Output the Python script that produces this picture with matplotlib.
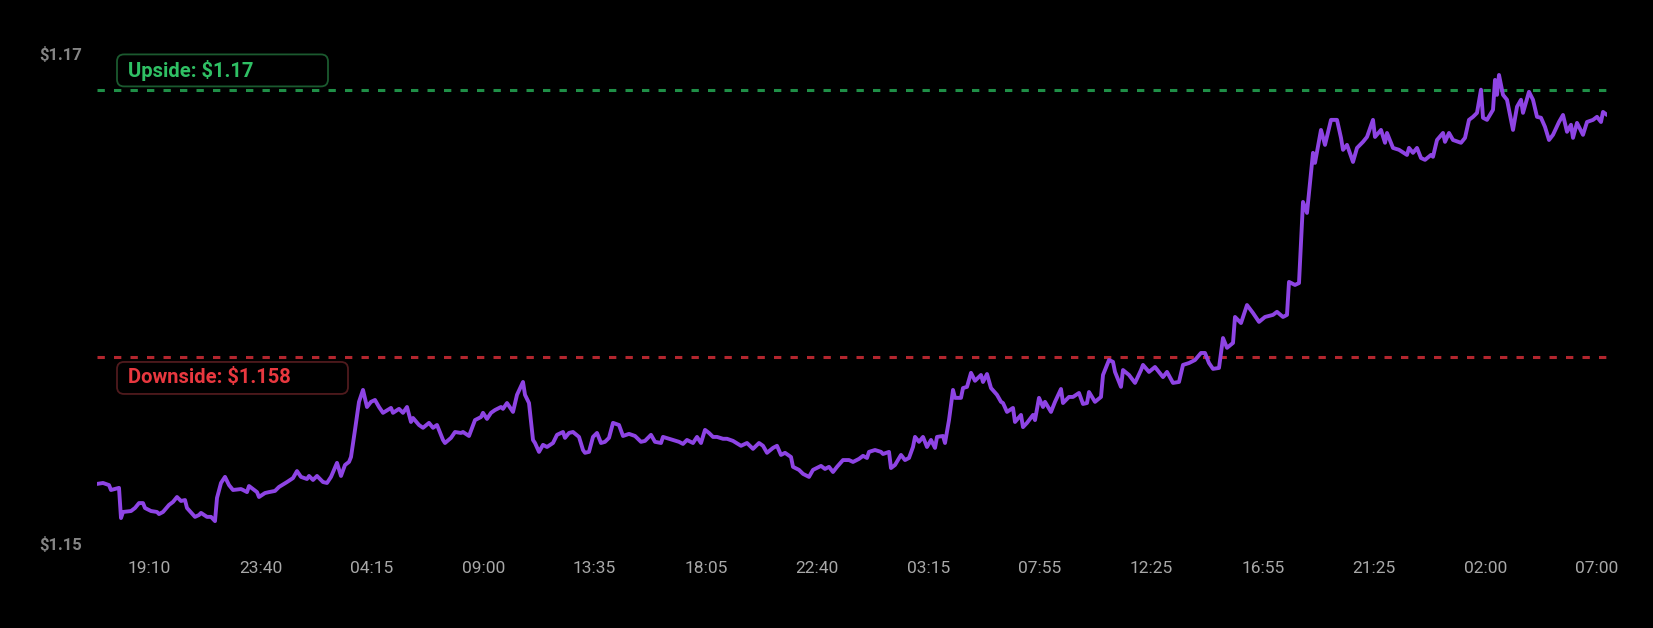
import numpy as np
import matplotlib.pyplot as plt
from matplotlib.patches import FancyBboxPatch
from matplotlib.transforms import IdentityTransform

plt.rcParams['font.family'] = ['Roboto', 'DejaVu Sans']

# bar index (5 minute bars from first bar) and price
bar_idx = [
    0, 3, 6, 7, 11, 12, 13, 17, 19, 21, 23, 24, 27, 30, 31, 33, 36, 38, 40, 42,
    44, 45, 49, 51, 52, 55, 57, 59, 60, 62, 64, 66, 68, 72, 73, 75, 76, 78, 80, 81,
    84, 86, 89, 91, 95, 98, 100, 102, 105, 106, 108, 110, 113, 115, 117, 120, 122, 124, 126, 127,
    129, 131, 133, 135, 137, 139, 141, 143, 147, 148, 151, 153, 155, 157, 158, 161, 163, 166, 168, 170,
    173, 174, 177, 179, 182, 183, 186, 189, 192, 193, 195, 197, 199, 202, 203, 205, 208, 210, 213, 214,
    216, 218, 219, 221, 223, 225, 228, 230, 233, 234, 236, 238, 241, 243, 244, 246, 248, 250, 252, 254,
    256, 258, 261, 263, 266, 269, 272, 274, 277, 279, 282, 283, 286, 288, 291, 293, 295, 298, 300, 302,
    304, 306, 308, 310, 313, 315, 318, 322, 325, 328, 331, 333, 335, 338, 340, 342, 344, 347, 348, 351,
    353, 356, 358, 362, 364, 366, 368, 370, 373, 376, 378, 381, 383, 385, 386, 389, 392, 393, 396, 397,
    399, 402, 404, 406, 408, 409, 411, 413, 415, 417, 419, 420, 423, 424, 426, 428, 429, 432, 433, 435,
    437, 439, 442, 443, 445, 447, 450, 452, 453, 455, 458, 459, 462, 463, 465, 468, 469, 471, 473, 474,
    477, 479, 482, 483, 486, 488, 491, 493, 495, 496, 499, 502, 503, 506, 508, 509, 512, 513, 516, 519,
    522, 523, 526, 529, 533, 535, 538, 541, 543, 546, 549, 552, 554, 556, 558, 561, 563, 565, 568, 569,
    572, 575, 578, 581, 584, 588, 590, 593, 595, 596, 599, 601, 603, 605, 608, 609, 612, 614, 617, 620,
    622, 623, 625, 628, 630, 633, 635, 638, 639, 642, 644, 645, 648, 651, 655, 656, 658, 660, 662, 664,
    667, 668, 670, 673, 674, 676, 678, 682, 684, 686, 688, 690, 692, 693, 695, 698, 699, 700, 701, 703,
    705, 706, 708, 710, 712, 713, 716, 718, 720, 722, 724, 726, 728, 731, 733, 735, 737, 738, 740, 743,
    745, 748, 750, 752, 753, 755,
]
price = [
    1.15257, 1.15261, 1.15252, 1.15231, 1.15240, 1.15111, 1.15137, 1.15141, 1.15154, 1.15175,
    1.15175, 1.15154, 1.15141, 1.15137, 1.15128, 1.15137, 1.15167, 1.15180, 1.15201, 1.15184,
    1.15188, 1.15154, 1.15116, 1.15124, 1.15133, 1.15116, 1.15116, 1.15098, 1.15197, 1.15261,
    1.15287, 1.15252, 1.15231, 1.15235, 1.15231, 1.15222, 1.15248, 1.15235, 1.15222, 1.15201,
    1.15218, 1.15222, 1.15227, 1.15244, 1.15265, 1.15282, 1.15312, 1.15287, 1.15278, 1.15291,
    1.15274, 1.15291, 1.15265, 1.15261, 1.15287, 1.15347, 1.15291, 1.15338, 1.15351, 1.15372,
    1.15488, 1.15608, 1.15659, 1.15586, 1.15608, 1.15616, 1.15586, 1.15561, 1.15582, 1.15561,
    1.15578, 1.15561, 1.15586, 1.15522, 1.15539, 1.15509, 1.15497, 1.15518, 1.15497, 1.15509,
    1.15445, 1.15432, 1.15454, 1.15479, 1.15475, 1.15479, 1.15462, 1.15530, 1.15543, 1.15561,
    1.15535, 1.15561, 1.15573, 1.15586, 1.15578, 1.15603, 1.15565, 1.15638, 1.15693, 1.15638,
    1.15603, 1.15445, 1.15432, 1.15394, 1.15424, 1.15415, 1.15432, 1.15467, 1.15479, 1.15454,
    1.15475, 1.15479, 1.15458, 1.15402, 1.15390, 1.15394, 1.15458, 1.15475, 1.15432, 1.15437,
    1.15454, 1.15518, 1.15509, 1.15462, 1.15471, 1.15462, 1.15437, 1.15441, 1.15467, 1.15437,
    1.15432, 1.15458, 1.15450, 1.15445, 1.15437, 1.15428, 1.15445, 1.15432, 1.15458, 1.15432,
    1.15488, 1.15475, 1.15458, 1.15458, 1.15450, 1.15450, 1.15441, 1.15420, 1.15432, 1.15407,
    1.15432, 1.15420, 1.15390, 1.15411, 1.15420, 1.15381, 1.15390, 1.15372, 1.15330, 1.15317,
    1.15300, 1.15287, 1.15317, 1.15334, 1.15321, 1.15330, 1.15308, 1.15330, 1.15359, 1.15359,
    1.15351, 1.15364, 1.15377, 1.15368, 1.15394, 1.15402, 1.15394, 1.15385, 1.15394, 1.15325,
    1.15338, 1.15381, 1.15359, 1.15368, 1.15415, 1.15458, 1.15437, 1.15458, 1.15415, 1.15445,
    1.15411, 1.15458, 1.15462, 1.15432, 1.15530, 1.15659, 1.15625, 1.15625, 1.15667, 1.15672,
    1.15732, 1.15698, 1.15723, 1.15693, 1.15727, 1.15667, 1.15638, 1.15608, 1.15603, 1.15565,
    1.15582, 1.15522, 1.15552, 1.15500, 1.15518, 1.15552, 1.15530, 1.15625, 1.15586, 1.15608,
    1.15565, 1.15608, 1.15663, 1.15603, 1.15629, 1.15629, 1.15646, 1.15599, 1.15603, 1.15650,
    1.15608, 1.15629, 1.15723, 1.15787, 1.15779, 1.15736, 1.15672, 1.15744, 1.15723, 1.15689,
    1.15744, 1.15766, 1.15736, 1.15757, 1.15714, 1.15736, 1.15689, 1.15693, 1.15766, 1.15774,
    1.15787, 1.15817, 1.15817, 1.15774, 1.15749, 1.15753, 1.15881, 1.15839, 1.15860, 1.15971,
    1.15945, 1.16022, 1.15988, 1.15950, 1.15971, 1.15980, 1.15993, 1.15971, 1.15980, 1.16121,
    1.16108, 1.16116, 1.16463, 1.16416, 1.16673, 1.16630, 1.16771, 1.16707, 1.16814, 1.16814,
    1.16737, 1.16686, 1.16707, 1.16634, 1.16694, 1.16720, 1.16741, 1.16814, 1.16741, 1.16771,
    1.16716, 1.16758, 1.16694, 1.16686, 1.16664, 1.16694, 1.16673, 1.16694, 1.16651, 1.16643,
    1.16664, 1.16656, 1.16728, 1.16758, 1.16720, 1.16758, 1.16728, 1.16716, 1.16737, 1.16814,
    1.16827, 1.16844, 1.16943, 1.16823, 1.16814, 1.16857, 1.16985, 1.16921, 1.17006, 1.16921,
    1.16900, 1.16857, 1.16771, 1.16870, 1.16900, 1.16844, 1.16934, 1.16900, 1.16827, 1.16823,
    1.16784, 1.16728, 1.16750, 1.16805, 1.16835, 1.16763, 1.16793, 1.16737, 1.16801, 1.16750,
    1.16805, 1.16814, 1.16827, 1.16805, 1.16848, 1.16835,
]

tick_labels = ["19:10", "23:40", "04:15", "09:00", "13:35", "18:05", "22:40",
               "03:15", "07:55", "12:25", "16:55", "21:25", "02:00", "07:00"]

upside = 1.1694
downside = 1.158
y_range = (1.15, 1.171)

fig = plt.figure(figsize=(16.53, 6.28), dpi=100, facecolor='black')
ax = fig.add_axes([97 / 1653, 84 / 628, 1510 / 1653, 491 / 628])
ax.set_facecolor('black')

ax.plot(bar_idx, price, color='#8e44e4', lw=2.8,
        solid_joinstyle='round', solid_capstyle='round', zorder=3)
ax.axhline(upside, color='#1f8f47', lw=2.2, dashes=(2.4, 3.0), zorder=2)
ax.axhline(downside, color='#b3262e', lw=2.2, dashes=(2.4, 3.0), zorder=2)

ax.set_xlim(0, 755)
ax.set_ylim(*y_range)

ax.set_xticks(np.linspace(26, 750, len(tick_labels)))
ax.set_xticklabels(tick_labels)
ax.set_yticks(y_range)
ax.set_yticklabels([f"${v:.2f}" for v in y_range])
ax.tick_params(axis='x', length=0, pad=12, labelsize=12.5, labelcolor='#a8a8a8')
ax.tick_params(axis='y', length=0, pad=11, labelsize=12, labelcolor='#858585')
for lab in ax.get_yticklabels():
    lab.set_fontweight('semibold')
for s in ax.spines.values():
    s.set_visible(False)


def level_tag(value, text, txt_color, edge_color, width, above):
    ypx = ax.transData.transform((0, value))[1]
    x0 = ax.transAxes.transform((0, 0))[0] + 20
    h = 32
    y0 = ypx + 4 if above else ypx - 5 - h
    box = FancyBboxPatch((x0, y0), width, h,
                         boxstyle="round,pad=0,rounding_size=7",
                         transform=IdentityTransform(), fc='black',
                         ec=edge_color, lw=1.3, zorder=4)
    fig.add_artist(box)
    fig.text(x0 + 11, y0 + h / 2, text, transform=IdentityTransform(),
             ha='left', va='center', fontsize=14.5, fontweight='semibold',
             color=txt_color, zorder=5)


level_tag(upside, f"Upside: ${upside:.2f}", '#2fc064', '#1b5a2f', 211, True)
level_tag(downside, f"Downside: ${downside:.3f}", '#e8383f', '#4f1a1d', 231, False)

fig.savefig('out.png', dpi=100, facecolor='black')
